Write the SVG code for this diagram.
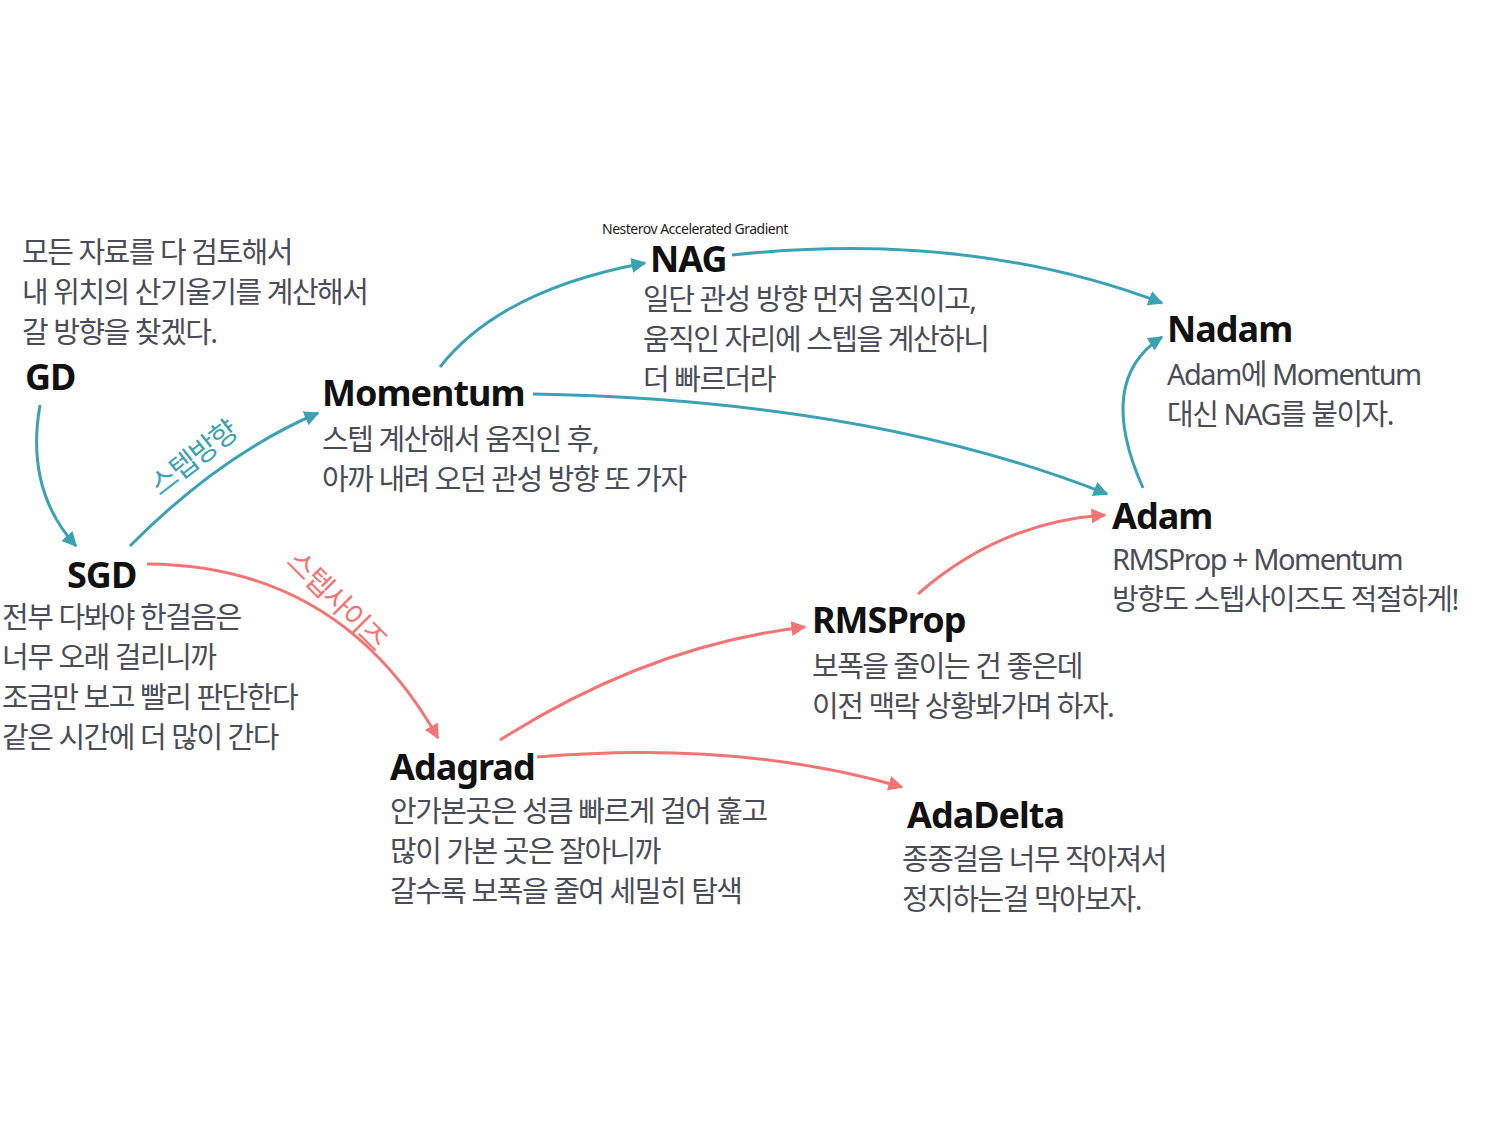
<svg xmlns="http://www.w3.org/2000/svg" width="1500" height="1125" viewBox="0 0 1500 1125">
<style>
.t{font-family:"Noto Sans","Noto Sans CJK KR",sans-serif;font-weight:bold;font-size:36px;fill:#111;letter-spacing:-1px}
.b{font-family:"Noto Sans","Noto Sans CJK KR",sans-serif;font-size:29px;fill:#4a4d57;letter-spacing:-1.5px}
.s{font-family:"Noto Sans",sans-serif;font-size:14px;fill:#222;letter-spacing:-0.5px}
.tl{fill:none;stroke:#3aa2b2;stroke-width:3}
.rd{fill:none;stroke:#f27474;stroke-width:3}
</style>
<defs>
<marker id="at" viewBox="0 0 10 10" refX="9" refY="5" markerWidth="5" markerHeight="5" orient="auto"><path d="M0,0L10,5L0,10z" fill="#3aa2b2"/></marker>
<marker id="ar" viewBox="0 0 10 10" refX="9" refY="5" markerWidth="5" markerHeight="5" orient="auto"><path d="M0,0L10,5L0,10z" fill="#f27474"/></marker>
</defs>
<rect width="1500" height="1125" fill="#fff"/>
<g id="connectors">
<path class="tl" d="M40,405 Q25,490 76,546" marker-end="url(#at)"/>
<path class="tl" d="M130,546 Q220,455 318,413" marker-end="url(#at)"/>
<path class="tl" d="M440,367 Q500,290 645,263" marker-end="url(#at)"/>
<path class="tl" d="M732,255 Q970,230 1162,303" marker-end="url(#at)"/>
<path class="tl" d="M533,394 Q870,400 1107,494" marker-end="url(#at)"/>
<path class="tl" d="M1143,488 Q1095,380 1162,337" marker-end="url(#at)"/>
<path class="rd" d="M147,564 Q340,565 438,738" marker-end="url(#ar)"/>
<path class="rd" d="M500,740 Q650,645 805,627" marker-end="url(#ar)"/>
<path class="rd" d="M918,594 Q1000,522 1105,515" marker-end="url(#ar)"/>
<path class="rd" d="M537,757 Q740,740 902,787" marker-end="url(#ar)"/>
<text class="b" fill="#3aa2b2" style="fill:#3aa2b2" transform="translate(160,497) rotate(-38)">스텝방향</text>
<text class="b" style="fill:#f27474" transform="translate(285,563) rotate(45)">스텝사이즈</text>
</g>
<g id="GD"><text class="b" x="22" y="263">모든 자료를 다 검토해서</text><text class="b" x="22" y="303">내 위치의 산기울기를 계산해서</text><text class="b" x="22" y="343">갈 방향을 찾겠다.</text><text class="t" x="25" y="390">GD</text></g>
<g id="SGD"><text class="t" x="67" y="588">SGD</text><text class="b" x="2" y="628">전부 다봐야 한걸음은</text><text class="b" x="2" y="668">너무 오래 걸리니까</text><text class="b" x="2" y="708">조금만 보고 빨리 판단한다</text><text class="b" x="2" y="748">같은 시간에 더 많이 간다</text></g>
<g id="Momentum"><text class="t" x="322" y="406">Momentum</text><text class="b" x="322" y="450">스텝 계산해서 움직인 후,</text><text class="b" x="322" y="490">아까 내려 오던 관성 방향 또 가자</text></g>
<g id="NAG"><text class="s" x="602" y="234">Nesterov Accelerated Gradient</text><text class="t" x="650" y="272">NAG</text><text class="b" x="643" y="310">일단 관성 방향 먼저 움직이고,</text><text class="b" x="643" y="350">움직인 자리에 스텝을 계산하니</text><text class="b" x="643" y="390">더 빠르더라</text></g>
<g id="Nadam"><text class="t" x="1167" y="342">Nadam</text><text class="b" x="1167" y="385">Adam에 Momentum</text><text class="b" x="1167" y="425">대신 NAG를 붙이자.</text></g>
<g id="Adam"><text class="t" x="1112" y="529">Adam</text><text class="b" x="1112" y="570">RMSProp + Momentum</text><text class="b" x="1112" y="610">방향도 스텝사이즈도 적절하게!</text></g>
<g id="RMSProp"><text class="t" x="812" y="633">RMSProp</text><text class="b" x="812" y="677">보폭을 줄이는 건 좋은데</text><text class="b" x="812" y="717">이전 맥락 상황봐가며 하자.</text></g>
<g id="Adagrad"><text class="t" x="390" y="780">Adagrad</text><text class="b" x="390" y="822">안가본곳은 성큼 빠르게 걸어 훑고</text><text class="b" x="390" y="862">많이 가본 곳은 잘아니까</text><text class="b" x="390" y="902">갈수록 보폭을 줄여 세밀히 탐색</text></g>
<g id="AdaDelta"><text class="t" x="907" y="828">AdaDelta</text><text class="b" x="902" y="870">종종걸음 너무 작아져서</text><text class="b" x="902" y="910">정지하는걸 막아보자.</text></g>
</svg>
